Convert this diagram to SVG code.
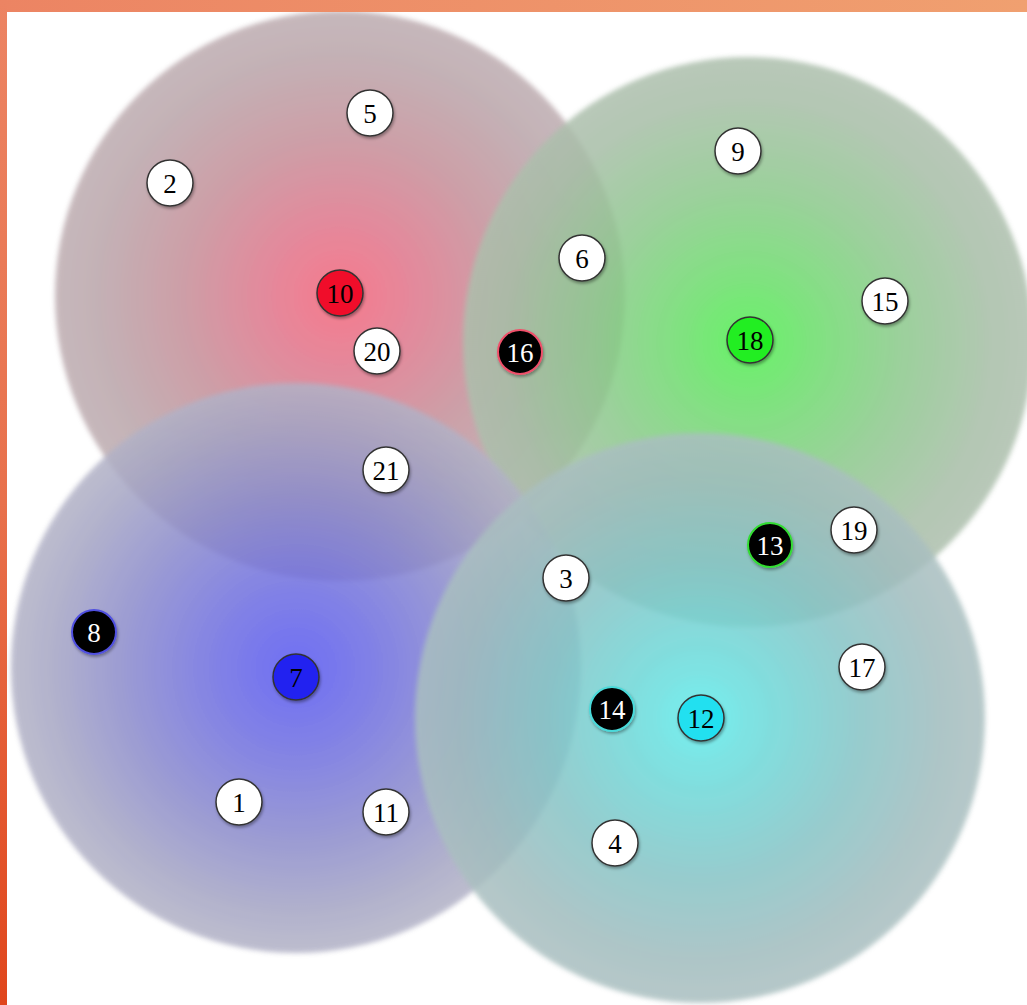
<svg xmlns="http://www.w3.org/2000/svg" width="1027" height="1005" viewBox="0 0 1027 1005">
<defs>
<linearGradient id="topBand" x1="0" y1="0" x2="1" y2="0">
<stop offset="0" stop-color="#ec8463"/><stop offset="1" stop-color="#f0a070"/>
</linearGradient>
<linearGradient id="leftBand" x1="0" y1="0" x2="0" y2="1">
<stop offset="0" stop-color="#ec8463"/><stop offset="0.5" stop-color="#e8714c"/><stop offset="1" stop-color="#e0461c"/>
</linearGradient>
<radialGradient id="gRed">
<stop offset="0" stop-color="#f5647a"/><stop offset="0.25" stop-color="#e0748a"/><stop offset="0.55" stop-color="#c58e98"/><stop offset="0.85" stop-color="#b9a4a9"/><stop offset="1" stop-color="#bdacb0"/>
</radialGradient>
<radialGradient id="gGreen">
<stop offset="0" stop-color="#4ef04e"/><stop offset="0.25" stop-color="#6cdc6c"/><stop offset="0.55" stop-color="#8cc88c"/><stop offset="0.85" stop-color="#a6bea6"/><stop offset="1" stop-color="#adbfad"/>
</radialGradient>
<radialGradient id="gBlue">
<stop offset="0" stop-color="#5656f2"/><stop offset="0.3" stop-color="#6e6ee0"/><stop offset="0.6" stop-color="#8a8acc"/><stop offset="0.85" stop-color="#a4a4c4"/><stop offset="1" stop-color="#b2b2c6"/>
</radialGradient>
<radialGradient id="gCyan">
<stop offset="0" stop-color="#5eecec"/><stop offset="0.25" stop-color="#6cd8d8"/><stop offset="0.55" stop-color="#84c4c6"/><stop offset="0.85" stop-color="#a0bcbe"/><stop offset="1" stop-color="#aabfc0"/>
</radialGradient>
<filter id="soft" x="-5%" y="-5%" width="110%" height="110%"><feGaussianBlur stdDeviation="2.5"/></filter>
<filter id="shadow" x="-40%" y="-40%" width="180%" height="180%"><feDropShadow dx="1" dy="2" stdDeviation="1.5" flood-color="#000" flood-opacity="0.35"/></filter>
</defs>
<style>
.zone{opacity:0.85;filter:url(#soft)}
.node circle{stroke:#333;stroke-width:1.5;filter:url(#shadow)}
.w circle{fill:#ffffff}
.node text{font-family:"Liberation Serif","DejaVu Serif",serif;font-size:27px;text-anchor:middle;dominant-baseline:central;fill:#000}
.dark circle{fill:#000}
.dark text{fill:#fff}
</style>
<rect width="1027" height="1005" fill="#ffffff"/>
<g id="zones">
<circle class="zone" cx="340" cy="296" r="285" fill="url(#gRed)"/>
<circle class="zone" cx="748" cy="342" r="285" fill="url(#gGreen)"/>
<circle class="zone" cx="296" cy="668" r="285" fill="url(#gBlue)"/>
<circle class="zone" cx="700" cy="718" r="285" fill="url(#gCyan)"/>
</g>
<rect x="0" y="0" width="1027" height="12" fill="url(#topBand)"/>
<rect x="0" y="0" width="7" height="1005" fill="url(#leftBand)"/>
<g id="connectors"></g>
<g id="n5" class="node w"><circle cx="370" cy="113" r="23"/><text x="370" y="114">5</text></g>
<g id="n2" class="node w"><circle cx="170" cy="183" r="23"/><text x="170" y="184">2</text></g>
<g id="n9" class="node w"><circle cx="738" cy="151" r="23"/><text x="738" y="152">9</text></g>
<g id="n6" class="node w"><circle cx="582" cy="258" r="23"/><text x="582" y="259">6</text></g>
<g id="n15" class="node w"><circle cx="885" cy="301" r="23"/><text x="885" y="302">15</text></g>
<g id="n10" class="node"><circle cx="340" cy="293" r="23" fill="#f0102a"/><text x="340" y="294">10</text></g>
<g id="n20" class="node w"><circle cx="377" cy="351" r="23"/><text x="377" y="352">20</text></g>
<g id="n16" class="node dark"><circle cx="520" cy="352" r="22" style="stroke:#f0506a;stroke-width:2"/><text x="520" y="353">16</text></g>
<g id="n18" class="node"><circle cx="750" cy="340" r="23" fill="#22ee22"/><text x="750" y="341">18</text></g>
<g id="n21" class="node w"><circle cx="386" cy="470" r="23"/><text x="386" y="471">21</text></g>
<g id="n13" class="node dark"><circle cx="770" cy="545" r="22" style="stroke:#33dd33;stroke-width:2"/><text x="770" y="546">13</text></g>
<g id="n19" class="node w"><circle cx="854" cy="530" r="23"/><text x="854" y="531">19</text></g>
<g id="n3" class="node w"><circle cx="566" cy="578" r="23"/><text x="566" y="579">3</text></g>
<g id="n8" class="node dark"><circle cx="94" cy="632" r="22" style="stroke:#5050e0;stroke-width:2"/><text x="94" y="633">8</text></g>
<g id="n7" class="node"><circle cx="296" cy="677" r="23" fill="#2222f0"/><text x="296" y="678">7</text></g>
<g id="n17" class="node w"><circle cx="862" cy="667" r="23"/><text x="862" y="668">17</text></g>
<g id="n14" class="node dark"><circle cx="612" cy="709" r="22" style="stroke:#4adada;stroke-width:2"/><text x="612" y="710">14</text></g>
<g id="n12" class="node"><circle cx="701" cy="718" r="23" fill="#22e0f0"/><text x="701" y="719">12</text></g>
<g id="n1" class="node w"><circle cx="239" cy="802" r="23"/><text x="239" y="803">1</text></g>
<g id="n11" class="node w"><circle cx="386" cy="812" r="23"/><text x="386" y="813">11</text></g>
<g id="n4" class="node w"><circle cx="615" cy="843" r="23"/><text x="615" y="844">4</text></g>
</svg>
